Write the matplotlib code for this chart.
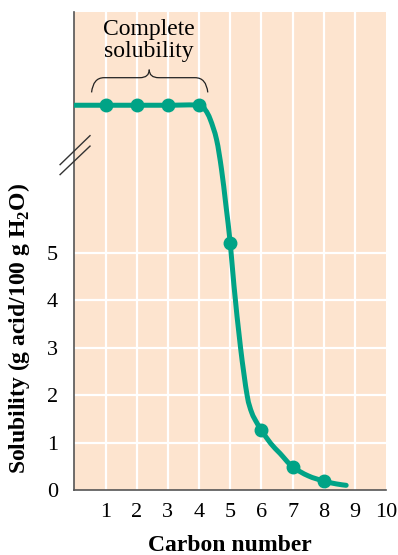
import numpy as np
import matplotlib
matplotlib.use('Agg')
import matplotlib.pyplot as plt
from matplotlib.path import Path
from matplotlib.patches import PathPatch

plt.rcParams['mathtext.fontset'] = 'custom'
plt.rcParams['mathtext.rm'] = 'Liberation Serif'
plt.rcParams['mathtext.bf'] = 'Liberation Serif:bold'

# measured points (carbon number vs solubility)
carbons = [1, 2, 3, 4, 5, 6, 7, 8]
solubility = [8.1, 8.1, 8.1, 8.1, 5.2, 1.26, 0.49, 0.19]

# hand-traced curve through the points
curve_x = [0, 1, 2, 3, 4.0, 4.2, 4.36, 4.56, 4.72, 4.86, 5.0,
           5.12, 5.33, 5.54, 5.69, 5.85, 6.0, 6.3, 6.6, 7.0, 7.5, 8.0, 8.4, 8.72]
curve_y = [8.1, 8.1, 8.1, 8.1, 8.1, 8.0, 7.8, 7.38, 6.75, 6.0, 5.2,
           4.3, 3.0, 2.0, 1.63, 1.42, 1.26, 0.98, 0.77, 0.49, 0.3, 0.19, 0.13, 0.1]

x_ticks = [1, 2, 3, 4, 5, 6, 7, 8, 9, 10]
y_ticks = [0, 1, 2, 3, 4, 5]

TEAL = '#00A386'
BG = '#FDE4CF'
SERIF = ['Liberation Serif', 'DejaVu Serif']


def smooth_path(xs, ys):
    # Catmull-Rom through the traced points, as cubic bezier segments
    pts = np.column_stack([xs, ys])
    verts = [pts[0]]
    codes = [Path.MOVETO]
    n = len(pts)
    for i in range(n - 1):
        p0 = pts[max(i - 1, 0)]
        p1 = pts[i]
        p2 = pts[i + 1]
        p3 = pts[min(i + 2, n - 1)]
        c1 = p1 + (p2 - p0) / 6.0
        c2 = p2 - (p3 - p1) / 6.0
        verts += [c1, c2, p2]
        codes += [Path.CURVE4] * 3
    return Path(verts, codes)


fig = plt.figure(figsize=(3.98, 5.55), dpi=100)
ax = fig.add_axes([0.187, 0.117, 0.783, 0.862])
ax.set_facecolor(BG)
ax.set_xlim(0, 10)
ax.set_ylim(0, 10.07)

# white grid
for xv in range(1, 10):
    ax.axvline(xv, color='white', lw=1.6, zorder=1)
for yv in y_ticks[1:]:
    ax.axhline(yv, color='white', lw=1.6, zorder=1)

ax.add_patch(PathPatch(smooth_path(curve_x, curve_y), fill=False, color=TEAL,
                       lw=3.6, capstyle='round', zorder=3))
ax.plot(carbons, solubility, 'o', color=TEAL, ms=9, zorder=4)

ax.set_xticks(x_ticks)
ax.set_yticks(y_ticks)
ax.tick_params(length=0, labelsize=16)
ax.tick_params(axis='x', pad=9)
ax.tick_params(axis='y', pad=12)
for lbl in ax.get_xticklabels() + ax.get_yticklabels():
    lbl.set_family(SERIF)

for s in ['top', 'right']:
    ax.spines[s].set_visible(False)
for s in ['left', 'bottom']:
    ax.spines[s].set_color('#555555')
    ax.spines[s].set_linewidth(1.2)

ax.set_xlabel('Carbon number', family=SERIF, fontweight='bold', fontsize=17, labelpad=10)
ax.text(-0.178, 0.337, r'Solubility (g acid/100 g H$_\mathbf{2}$O)', transform=ax.transAxes,
        rotation=90, ha='center', va='center', family=SERIF, fontweight='bold', fontsize=17)

# axis break marks
ax.plot([-0.46, 0.5], [6.85, 7.46], color='#333333', lw=1, clip_on=False, zorder=5)
ax.plot([-0.46, 0.5], [6.64, 7.24], color='#333333', lw=1, clip_on=False, zorder=5)

# curly brace over the complete solubility region
x0, x1, xm = 0.55, 4.28, 2.4
yb, yt, ytip = 8.37, 8.68, 8.85
verts = [(x0, yb), (x0 + 0.05, yt), (x0 + 0.4, yt),
         (xm - 0.3, yt), (xm - 0.3, yt), (xm, yt), (xm, ytip)]
codes = [Path.MOVETO, Path.CURVE3, Path.CURVE3, Path.LINETO,
         Path.MOVETO, Path.CURVE3, Path.CURVE3]
ax.add_patch(PathPatch(Path(verts, codes), fill=False, lw=0.9, color='#222222', zorder=5))
verts_r = [(x1 - (x - x0) * (x1 - xm) / (xm - x0), y) for x, y in verts]
ax.add_patch(PathPatch(Path(verts_r, codes), fill=False, lw=0.9, color='#222222', zorder=5))

ax.text(xm, 9.69, 'Complete', ha='center', va='center', family=SERIF, fontsize=17)
ax.text(xm, 9.23, 'solubility', ha='center', va='center', family=SERIF, fontsize=17)

plt.savefig('out.png', dpi=100)
plt.close()
